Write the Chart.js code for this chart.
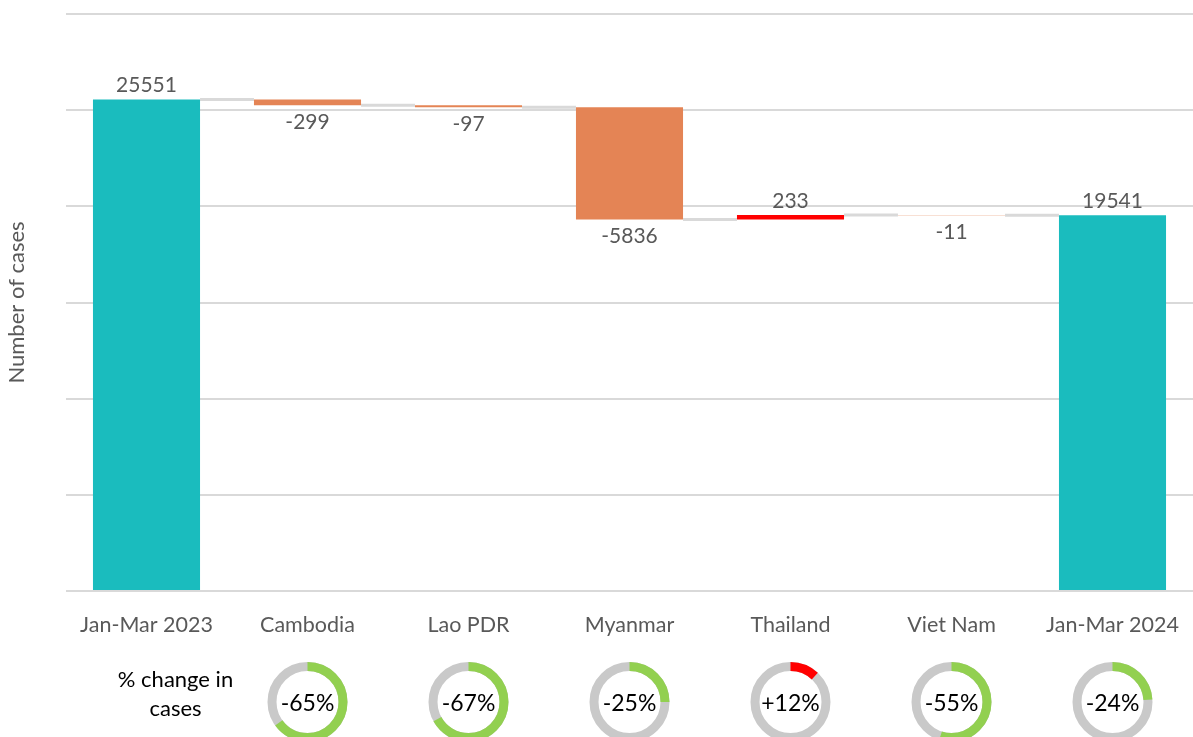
<!DOCTYPE html>
<html>
<head>
<meta charset="utf-8">
<script src="https://cdn.jsdelivr.net/npm/chart.js@4/dist/chart.umd.min.js"></script>
<style>
  html, body { margin: 0; padding: 0; background: #fff; }
  #wrap { width: 1193px; height: 737px; position: relative; }
</style>
</head>
<body>
<div id="wrap"><canvas id="c"></canvas></div>
<script>
const categories = ["Jan-Mar 2023", "Cambodia", "Lao PDR", "Myanmar", "Thailand", "Viet Nam", "Jan-Mar 2024"];
const startTotal = 25551;
const changes = [-299, -97, -5836, 233, -11];
const endTotal = 19541;
const pctChange = [null, -65, -67, -25, 12, -55, -24];
const yTicks = [0, 5000, 10000, 15000, 20000, 25000, 30000];

const FONT = "Lato, 'Open Sans', sans-serif";
const TEAL = "#1ABCBE", ORANGE = "#E48455", RED = "#FF0000", GREEN = "#92D050", RINGGRAY = "#C9C9C9";

// build floating bars
const floatData = [];
const colors = [];
const labels = [];
floatData.push([0, startTotal]); colors.push(TEAL); labels.push(String(startTotal));
let run = startTotal;
changes.forEach(v => {
  floatData.push([run, run + v]);
  colors.push(v < 0 ? ORANGE : RED);
  labels.push(String(v));
  run += v;
});
floatData.push([0, endTotal]); colors.push(TEAL); labels.push(String(endTotal));

const extras = {
  id: 'extras',
  beforeDatasetsDraw(chart) {
    const ctx = chart.ctx, y = chart.scales.y;
    const meta = chart.getDatasetMeta(0);
    ctx.save();
    ctx.strokeStyle = "#D9D9D9";
    ctx.lineWidth = 3;
    for (let i = 0; i < floatData.length - 1; i++) {
      const bar = meta.data[i], next = meta.data[i + 1];
      const py = y.getPixelForValue(floatData[i][1]);
      ctx.beginPath();
      ctx.moveTo(bar.x + bar.width / 2, py);
      ctx.lineTo(next.x - next.width / 2, py);
      ctx.stroke();
    }
    ctx.restore();
  },
  afterDraw(chart) {
    const ctx = chart.ctx, x = chart.scales.x, y = chart.scales.y;
    const meta = chart.getDatasetMeta(0);
    ctx.save();
    ctx.font = "21px " + FONT;
    ctx.fillStyle = "#595959";
    ctx.textAlign = "center";
    ctx.textBaseline = "middle";
    floatData.forEach((d, i) => {
      const bar = meta.data[i];
      const top = y.getPixelForValue(Math.max(d[0], d[1]));
      const bot = y.getPixelForValue(Math.min(d[0], d[1]));
      const isNeg = (i > 0 && i < floatData.length - 1 && changes[i - 1] < 0);
      if (isNeg) ctx.fillText(labels[i], bar.x, bot + 17);
      else ctx.fillText(labels[i], bar.x, top - 14);
    });
    // % change label
    ctx.fillStyle = "#000";
    ctx.font = "22px " + FONT;
    const cx0 = x.getPixelForValue(0);
    ctx.fillText("% change in", cx0 + 29, 680);
    ctx.fillText("cases", cx0 + 29, 709);
    // donuts
    const cy = 702, rOut = 40, thick = 9, r = rOut - thick / 2;
    pctChange.forEach((p, i) => {
      if (p === null) return;
      const cx = x.getPixelForValue(i);
      ctx.lineWidth = thick;
      ctx.strokeStyle = RINGGRAY;
      ctx.beginPath(); ctx.arc(cx, cy, r, 0, Math.PI * 2); ctx.stroke();
      const a0 = -Math.PI / 2;
      const a1 = a0 + Math.PI * 2 * Math.abs(p) / 100;
      ctx.strokeStyle = p > 0 ? RED : GREEN;
      ctx.beginPath(); ctx.arc(cx, cy, r, a0, a1); ctx.stroke();
      ctx.fillStyle = "#000";
      ctx.font = "23px " + FONT;
      ctx.fillText((p > 0 ? "+" : "") + p + "%", cx, cy + 2);
    });
    ctx.restore();
  }
};

new Chart(document.getElementById('c'), {
  type: 'bar',
  data: {
    labels: categories,
    datasets: [{
      data: floatData,
      backgroundColor: colors,
      borderWidth: 0,
      barPercentage: 0.665,
      categoryPercentage: 1.0
    }]
  },
  options: {
    responsive: true,
    maintainAspectRatio: false,
    animation: false,
    layout: { padding: { top: 14, right: 0, bottom: 0, left: 1 } },
    plugins: { legend: { display: false }, tooltip: { enabled: false } },
    scales: {
      x: {
        grid: { display: false, drawTicks: false },
        border: { display: false },
        ticks: { color: "#595959", font: { family: FONT, size: 21.5 }, padding: 21, maxRotation: 0, autoSkip: false },
        afterFit(scale) { scale.height = 146; scale.paddingLeft = 0; scale.paddingRight = 0; }
      },
      y: {
        min: 0, max: 30000,
        afterBuildTicks(scale) { scale.ticks = yTicks.map(v => ({ value: v })); },
        grid: { color: "#D9D9D9", lineWidth: 2, drawTicks: false },
        border: { display: false },
        ticks: { display: false },
        title: { display: true, text: "Number of cases", color: "#595959", font: { family: FONT, size: 22 }, padding: { top: 3, bottom: 0 } },
        afterFit(scale) { scale.width = 65; }
      }
    }
  },
  plugins: [extras]
});
</script>
</body>
</html>
